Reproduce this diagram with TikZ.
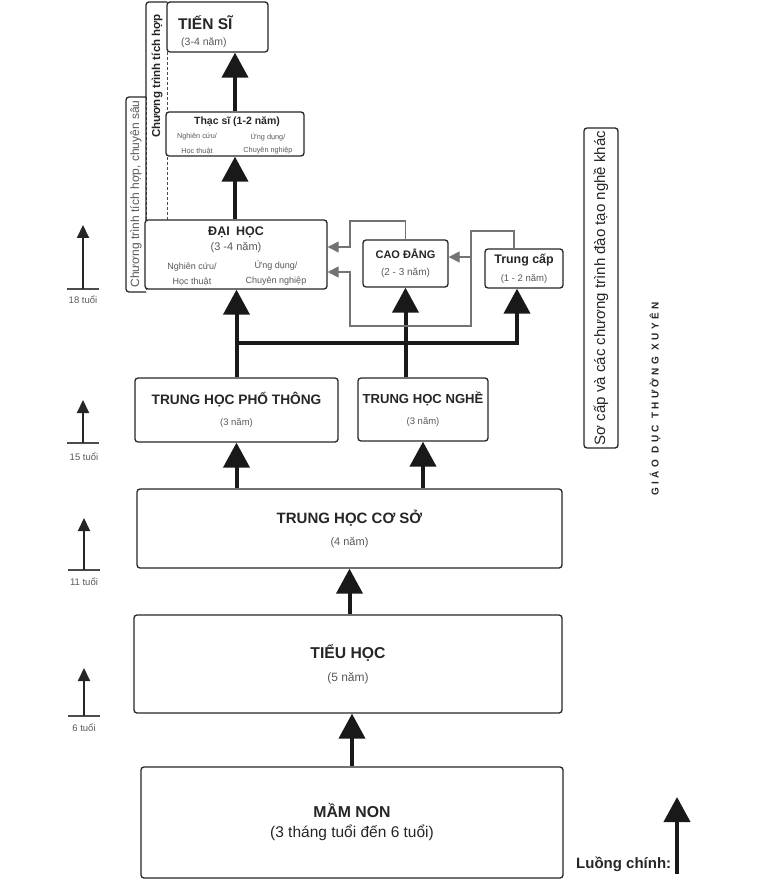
\documentclass[tikz,border=0pt]{standalone}
\usepackage{fontspec}
\setmainfont{Liberation Sans}
\newfontfamily\spacedfont[LetterSpace=34]{Liberation Sans}
\usetikzlibrary{arrows.meta}
\newcommand{\fsz}[2]{\fontsize{#1}{#2}\selectfont}

\begin{document}
\begin{tikzpicture}[x=1pt,y=-1pt,
    box/.style={draw=black!85,line width=1.3pt,rounded corners=3pt,fill=white,inner sep=0pt,align=center,text=black!85},
    strip/.style={draw=black!85,line width=1.3pt,rounded corners=3pt},
    split/.style={draw=black!70,line width=1pt,dash pattern=on 3pt off 2pt},
    txt/.style={inner sep=0pt,text=black!85},
    sub/.style={inner sep=0pt,text=black!65},
    main/.style={draw=black!90,line width=4pt,-{Triangle[width=26pt,length=25pt]}},
    side/.style={draw=black!55,line width=1.1pt,-{Triangle[width=11pt,length=11pt]}},
    age/.style={draw=black!85,line width=2pt,-{Triangle[width=12pt,length=13pt]}},
    tick/.style={draw=black!70,line width=1.2pt}]
  \useasboundingbox (0,0) rectangle (777,882);

  \draw[strip] (146,97) -- (126,97) -- (126,292) -- (146,292);
  \draw[split] (146,97) -- (146,292);
  \draw[strip] (167,2) -- (146,2) -- (146,220);
  \draw[split] (167,2) -- (167,220);
  \node[sub,rotate=90] (tichhopsau) at (136,194) {\fsz{12}{14}Chương trình tích hợp, chuyên sâu};
  \node[txt,rotate=90] (tichhop) at (157,76) {\fsz{11.5}{14}\bfseries Chương trình tích hợp};

  \node[box,minimum width=101,minimum height=50] (tiensi) at (217.5,27) {};
  \node[txt,anchor=west] (tiensiname) at (178,23) {\fsz{15.5}{18}\bfseries TIẾN SĨ};
  \node[sub,anchor=west] (tiensiyear) at (181,43) {\fsz{10.5}{12}(3-4 năm)};

  \node[box,minimum width=138,minimum height=44] (thacsi) at (235,134) {};
  \node[txt] (thacsiname) at (237,122) {\fsz{10.5}{12}\bfseries Thạc sĩ (1-2 năm)};
  \node[sub] (thacsinc) at (197,137) {\fsz{7.3}{9}Nghiên cứu/};
  \node[sub] (thacsiht) at (197,151) {\fsz{7.3}{9}Học thuật};
  \node[sub] (thacsiud) at (268,137) {\fsz{7.3}{9}Ứng dụng/};
  \node[sub] (thacsicn) at (268,151) {\fsz{7.3}{9}Chuyên nghiệp};

  \node[box,minimum width=182,minimum height=69] (daihoc) at (236,254.5) {};
  \node[txt] (daihocname) at (236,232) {\fsz{12.5}{14}\bfseries ĐẠI\enspace HỌC};
  \node[sub] (daihocyear) at (236,248) {\fsz{11}{13}(3 -4 năm)};
  \node[sub] (daihocnc) at (192,267) {\fsz{9}{11}Nghiên cứu/};
  \node[sub] (daihocht) at (192,282) {\fsz{9}{11}Học thuật};
  \node[sub] (daihocud) at (276,266) {\fsz{9}{11}Ứng dụng/};
  \node[sub] (daihoccn) at (276,281) {\fsz{9}{11}Chuyên nghiệp};

  \node[box,minimum width=85,minimum height=47,font=\fsz{11}{17}] (caodang) at (405.5,263.5)
    {\bfseries CAO ĐẲNG\\\mdseries\color{black!65}\fsz{10}{17}(2 - 3 năm)};
  \node[box,minimum width=78,minimum height=39,font=\fsz{12.4}{18}] (trungcap) at (524,268.5)
    {\bfseries Trung cấp\\\mdseries\color{black!65}\fsz{9.5}{18}(1 - 2 năm)};

  \node[box,minimum width=203,minimum height=64,font=\fsz{13.7}{21}] (thpt) at (236.5,410)
    {\bfseries TRUNG HỌC PHỔ THÔNG\\\mdseries\color{black!65}\fsz{9.5}{21}(3 năm)};
  \node[box,minimum width=130,minimum height=63,font=\fsz{13.1}{21}] (thnghe) at (423,409.5)
    {\bfseries TRUNG HỌC NGHỀ\\\mdseries\color{black!65}\fsz{9.5}{21}(3 năm)};
  \node[box,minimum width=425,minimum height=79,font=\fsz{15}{22}] (thcs) at (349.5,528.5)
    {\bfseries TRUNG HỌC CƠ SỞ\\\mdseries\color{black!65}\fsz{11}{22}(4 năm)};
  \node[box,minimum width=428,minimum height=98,font=\fsz{15.7}{23}] (tieuhoc) at (348,664)
    {\bfseries TIỂU HỌC\\\mdseries\color{black!65}\fsz{12}{23}(5 năm)};
  \node[box,minimum width=422,minimum height=111,font=\fsz{15.8}{20}] (mamnon) at (352,822.5)
    {\bfseries MẦM NON\\\mdseries\fsz{15.5}{20}(3 tháng tuổi đến 6 tuổi)};

  \node[box,rotate=90,minimum width=320,minimum height=34] (socap) at (601,288)
    {\fsz{15}{18}Sơ cấp và các chương trình đào tạo nghề khác};
  \node[txt,rotate=90] (gdtx) at (655,399) {\spacedfont\bfseries\fsz{10}{12}GIÁO DỤC THƯỜNG XUYÊN};

  \draw[main] (thacsi.north) -- (thacsi.north |- tiensi.south);
  \draw[main] (daihoc.north -| thacsi.north) -- (thacsi.south);

  \coordinate (bar) at (236,343);
  \draw[main] (thpt.north) -- (daihoc.south -| thpt.north);
  \draw[main] (thnghe.north -| caodang.south) -- (caodang.south);
  \draw[main] (bar) -| ([xshift=-7pt]trungcap.south);
  \draw[main] (thcs.north -| thpt.south) -- (thpt.south);
  \draw[main] (thcs.north -| thnghe.south) -- (thnghe.south);
  \draw[main] (tieuhoc.north -| thcs.south) -- (thcs.south);
  \draw[main] (mamnon.north) -- (tieuhoc.south -| mamnon.north);

  \coordinate (cdtop) at (350,221);
  \coordinate (tcleft) at (471,231);
  \coordinate (tcbottom) at (350,326);
  \coordinate (cdin) at ([yshift=6.5pt]caodang.east);
  \draw[side] (caodang.north) |- (cdtop) |- ([yshift=7.5pt]daihoc.east);
  \draw[side] ([xshift=-10pt]trungcap.north) |- (tcleft) |- (tcbottom) |- ([yshift=-17.5pt]daihoc.east);
  \draw[side] (tcleft |- cdin) -- (cdin);

  \coordinate (a18) at (83,289);
  \draw[tick] ([xshift=-16pt]a18) -- ([xshift=16pt]a18);
  \draw[age] (a18) -- ++(0,-64);
  \node[sub] (lbl18) at (83,300) {\fsz{9.5}{11}18 tuổi};
  \coordinate (a15) at (83,443);
  \draw[tick] ([xshift=-16pt]a15) -- ([xshift=16pt]a15);
  \draw[age] (a15) -- ++(0,-43);
  \node[sub] (lbl15) at (84,457) {\fsz{9.5}{11}15 tuổi};
  \coordinate (a11) at (84,570);
  \draw[tick] ([xshift=-16pt]a11) -- ([xshift=16pt]a11);
  \draw[age] (a11) -- ++(0,-52);
  \node[sub] (lbl11) at (84,582) {\fsz{9.5}{11}11 tuổi};
  \coordinate (a6) at (84,716);
  \draw[tick] ([xshift=-16pt]a6) -- ([xshift=16pt]a6);
  \draw[age] (a6) -- ++(0,-48);
  \node[sub] (lbl6) at (84,728) {\fsz{9.5}{11}6 tuổi};

  \node[txt,anchor=base west] (luong) at (576,868) {\fsz{15}{18}\bfseries Luồng chính:};
  \coordinate (lc) at (677,874);
  \draw[main] (lc) -- ++(0,-77);
\end{tikzpicture}
\end{document}
